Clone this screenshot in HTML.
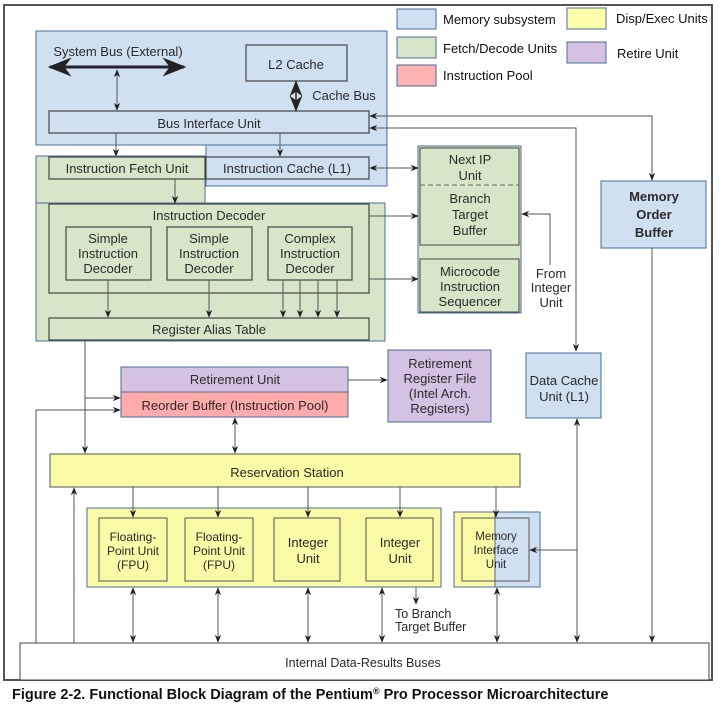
<!DOCTYPE html>
<html><head><meta charset="utf-8"><style>
html,body{margin:0;padding:0;background:#fff;}
svg{display:block;}
text{font-family:"Liberation Sans",sans-serif;fill:#2a2a2a;}
</style></head><body>
<svg width="721" height="707" viewBox="0 0 721 707" xmlns="http://www.w3.org/2000/svg">
<defs>
<marker id="a" viewBox="0 0 10 10" refX="9" refY="5" markerWidth="8" markerHeight="8" orient="auto-start-reverse"><path d="M0,1 L10,5 L0,9 L3,5 Z" fill="#222"/></marker>
</defs>
<rect x="0" y="0" width="721" height="707" fill="#fff"/>
<rect x="4" y="5" width="708" height="675" fill="none" stroke="#555" stroke-width="2"/>

<!-- background regions -->
<rect x="36" y="31" width="351" height="114" fill="#cfe0f1" stroke="#4a6d9a"/>
<rect x="206" y="145" width="181" height="41" fill="#cfe0f1" stroke="#4a6d9a"/>
<rect x="36" y="156" width="169" height="47" fill="#d7e5c9" stroke="#4a6d9a"/>
<rect x="36" y="203" width="349" height="138" fill="#d7e5c9" stroke="#4a6d9a"/>

<!-- legend -->
<g stroke="#4a6d9a">
<rect x="397" y="9" width="39" height="20" fill="#cfe0f1"/>
<rect x="397" y="37" width="39" height="21" fill="#d7e5c9"/>
<rect x="397" y="65" width="39" height="21" fill="#ffb3b3"/>
<rect x="567" y="8" width="39" height="21" fill="#ffffab"/>
<rect x="567" y="42" width="39" height="21" fill="#d5c2e2"/>
</g>
<g font-size="13">
<text x="443" y="24" style="fill:#111">Memory subsystem</text>
<text x="443" y="53" style="fill:#111">Fetch/Decode Units</text>
<text x="443" y="80" style="fill:#111">Instruction Pool</text>
<text x="616" y="23" style="fill:#111">Disp/Exec Units</text>
<text x="617" y="58" style="fill:#111">Retire Unit</text>
</g>

<g fill="none" stroke="#444" stroke-width="1.2">
<!-- boxes -->
<rect x="246" y="45" width="101" height="36"/>
<rect x="49" y="111" width="320" height="22"/>
<rect x="49" y="157" width="156" height="22"/>
<rect x="206" y="157" width="163" height="22"/>
<rect x="49" y="204" width="320" height="89"/>
<rect x="66" y="227" width="85" height="53"/>
<rect x="167" y="227" width="85" height="53"/>
<rect x="268" y="227" width="84" height="53"/>
<rect x="49" y="318" width="320" height="22"/>
</g>
<rect x="418" y="146" width="103" height="167" fill="#d7e5c9" stroke="#4a6d9a"/>
<rect x="420" y="148" width="99" height="97" fill="none" stroke="#444"/>
<rect x="420" y="259" width="99" height="53" fill="none" stroke="#444"/>
<line x1="420" y1="185" x2="519" y2="185" stroke="#666" stroke-dasharray="5,3"/>
<rect x="601" y="181" width="105" height="67" fill="#cfe0f1" stroke="#4a6d9a"/>
<rect x="526" y="353" width="75" height="65" fill="#cfe0f1" stroke="#4a6d9a"/>
<rect x="121" y="367" width="227" height="25" fill="#d5c2e2" stroke="#4a6d9a"/>
<rect x="121" y="392" width="227" height="25" fill="#ffabab" stroke="#4a6d9a"/>
<line x1="122" y1="392" x2="347" y2="392" stroke="#666" stroke-dasharray="4,3"/>
<rect x="388" y="350" width="103" height="72" fill="#d5c2e2" stroke="#4a6d9a"/>
<rect x="50" y="454" width="470" height="33" fill="#fbfaa6" stroke="#555"/>
<rect x="87" y="508" width="354" height="79" fill="#fbfaa6" stroke="#4a6d9a"/>
<g fill="none" stroke="#555">
<rect x="99" y="518" width="68" height="63"/>
<rect x="185" y="518" width="68" height="63"/>
<rect x="274" y="518" width="66" height="63"/>
<rect x="366" y="518" width="67" height="63"/>
</g>
<rect x="454" y="512" width="41" height="75" fill="#fbfaa6"/>
<rect x="495" y="512" width="45" height="75" fill="#cfe0f1"/>
<rect x="454" y="512" width="86" height="75" fill="none" stroke="#4a6d9a"/>
<line x1="495" y1="512" x2="495" y2="587" stroke="#4a6d9a"/>
<rect x="462" y="518" width="67" height="63" fill="none" stroke="#555"/>
<rect x="20" y="643" width="689" height="37" fill="#fff" stroke="#444"/>

<!-- connectors -->
<g fill="none" stroke="#555" stroke-width="1">
<line x1="50" y1="67" x2="184" y2="67" stroke="#223" stroke-width="3" marker-start="url(#a)" marker-end="url(#a)"/>
<line x1="117" y1="70" x2="117" y2="110" marker-start="url(#a)" marker-end="url(#a)"/>
<line x1="296" y1="82" x2="296" y2="110" stroke-width="2" marker-start="url(#a)" marker-end="url(#a)"/>
<line x1="116" y1="133" x2="116" y2="156" marker-end="url(#a)"/>
<line x1="280" y1="133" x2="280" y2="156" marker-end="url(#a)"/>
<line x1="175" y1="179" x2="175" y2="203" marker-end="url(#a)"/>
<line x1="108" y1="280" x2="108" y2="317" marker-end="url(#a)"/>
<line x1="209" y1="280" x2="209" y2="317" marker-end="url(#a)"/>
<line x1="283" y1="280" x2="283" y2="317" marker-end="url(#a)"/>
<line x1="300" y1="280" x2="300" y2="317" marker-end="url(#a)"/>
<line x1="318" y1="280" x2="318" y2="317" marker-end="url(#a)"/>
<line x1="337" y1="280" x2="337" y2="317" marker-end="url(#a)"/>
<polyline points="652,180 652,116 370,116" marker-start="url(#a)" marker-end="url(#a)"/>
<polyline points="576,351 576,128 370,128" marker-start="url(#a)" marker-end="url(#a)"/>
<line x1="370" y1="168" x2="418" y2="168" marker-start="url(#a)" marker-end="url(#a)"/>
<line x1="369" y1="216" x2="418" y2="216" marker-end="url(#a)"/>
<line x1="369" y1="279" x2="418" y2="279" marker-end="url(#a)"/>
<polyline points="550,265 550,214 522,214" marker-end="url(#a)"/>
<line x1="652" y1="248" x2="652" y2="642" marker-end="url(#a)"/>
<line x1="348" y1="380" x2="387" y2="380" marker-end="url(#a)"/>
<polyline points="85,341 85,453" marker-end="url(#a)"/>
<line x1="85" y1="398" x2="120" y2="398" marker-end="url(#a)"/>
<polyline points="36,643 36,410 120,410" marker-end="url(#a)"/>
<line x1="235" y1="418" x2="235" y2="453" marker-start="url(#a)" marker-end="url(#a)"/>
<line x1="74" y1="643" x2="74" y2="488" marker-end="url(#a)"/>
<line x1="133" y1="487" x2="133" y2="517" marker-end="url(#a)"/>
<line x1="218" y1="487" x2="218" y2="517" marker-end="url(#a)"/>
<line x1="308" y1="487" x2="308" y2="517" marker-end="url(#a)"/>
<line x1="400" y1="487" x2="400" y2="517" marker-end="url(#a)"/>
<line x1="496" y1="487" x2="496" y2="517" marker-end="url(#a)"/>
<line x1="133" y1="588" x2="133" y2="642" marker-start="url(#a)" marker-end="url(#a)"/>
<line x1="218" y1="588" x2="218" y2="642" marker-start="url(#a)" marker-end="url(#a)"/>
<line x1="308" y1="588" x2="308" y2="642" marker-start="url(#a)" marker-end="url(#a)"/>
<line x1="382" y1="588" x2="382" y2="642" marker-start="url(#a)" marker-end="url(#a)"/>
<line x1="497" y1="588" x2="497" y2="642" marker-start="url(#a)" marker-end="url(#a)"/>
<line x1="416" y1="587" x2="416" y2="604" marker-end="url(#a)"/>
<line x1="577" y1="419" x2="577" y2="642" marker-start="url(#a)" marker-end="url(#a)"/>
<line x1="577" y1="550" x2="530" y2="550" marker-end="url(#a)"/>
</g>

<!-- labels -->
<g font-size="13" text-anchor="middle">
<text x="118" y="56">System Bus (External)</text>
<text x="296" y="69">L2 Cache</text>
<text x="344" y="100">Cache Bus</text>
<text x="209" y="128">Bus Interface Unit</text>
<text x="127" y="173">Instruction Fetch Unit</text>
<text x="287" y="173">Instruction Cache (L1)</text>
<text x="209" y="220">Instruction Decoder</text>
<text x="108" y="243">Simple</text><text x="108" y="258">Instruction</text><text x="108" y="273">Decoder</text>
<text x="209" y="243">Simple</text><text x="209" y="258">Instruction</text><text x="209" y="273">Decoder</text>
<text x="310" y="243">Complex</text><text x="310" y="258">Instruction</text><text x="310" y="273">Decoder</text>
<text x="209" y="334">Register Alias Table</text>
<text x="470" y="164">Next IP</text><text x="470" y="180">Unit</text>
<text x="470" y="203">Branch</text><text x="470" y="219">Target</text><text x="470" y="235">Buffer</text>
<text x="470" y="276">Microcode</text><text x="470" y="291">Instruction</text><text x="470" y="306">Sequencer</text>
<text x="551" y="278">From</text><text x="551" y="292">Integer</text><text x="551" y="307">Unit</text>
<text x="654" y="201" font-weight="bold">Memory</text><text x="654" y="219" font-weight="bold">Order</text><text x="654" y="237" font-weight="bold">Buffer</text>
<text x="564" y="385">Data Cache</text><text x="564" y="401">Unit (L1)</text>
<text x="235" y="384">Retirement Unit</text>
<text x="235" y="410">Reorder Buffer (Instruction Pool)</text>
<text x="440" y="368">Retirement</text><text x="440" y="383">Register File</text><text x="440" y="398">(Intel Arch.</text><text x="440" y="413">Registers)</text>
<text x="287" y="477">Reservation Station</text>
<text x="308" y="547">Integer</text><text x="308" y="563">Unit</text>
<text x="400" y="547">Integer</text><text x="400" y="563">Unit</text>
<text x="363" y="667" font-size="12.5">Internal Data-Results Buses</text>
</g>
<g font-size="12" text-anchor="middle">
<text x="133" y="541">Floating-</text><text x="133" y="555">Point Unit</text><text x="133" y="569">(FPU)</text>
<text x="219" y="541">Floating-</text><text x="219" y="555">Point Unit</text><text x="219" y="569">(FPU)</text>
<text x="496" y="540" font-size="11.5">Memory</text><text x="496" y="554" font-size="11.5">Interface</text><text x="496" y="568" font-size="11.5">Unit</text>
</g>
<text x="395" y="618" font-size="12.5">To Branch</text>
<text x="395" y="631" font-size="12.5">Target Buffer</text>
<text x="12" y="699" font-size="14.5" font-weight="bold" style="fill:#111">Figure 2-2.  Functional Block Diagram of the Pentium<tspan font-size="9" dy="-5">®</tspan><tspan dy="5"> Pro Processor Microarchitecture</tspan></text>
</svg>
</body></html>
